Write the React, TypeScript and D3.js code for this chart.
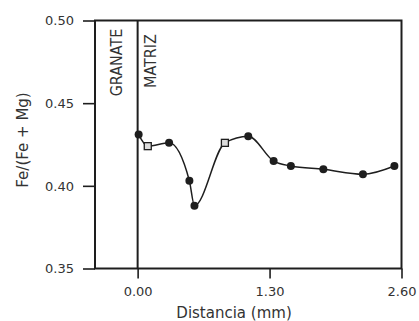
import React, { useRef, useEffect } from 'react';
import * as d3 from 'd3';

// Fe/(Fe+Mg) profile across garnet -> matrix
const distance = [0.01, 0.10, 0.31, 0.51, 0.56, 0.86, 1.09, 1.34, 1.51, 1.83, 2.22, 2.53];
const feRatio = [0.431, 0.424, 0.426, 0.403, 0.388, 0.426, 0.430, 0.415, 0.412, 0.410, 0.407, 0.412];
const openMarker = [false, true, false, false, false, true, false, false, false, false, false, false];

const xTicks = [0, 1.3, 2.6];
const yTicks = [0.35, 0.4, 0.45, 0.5];
const zoneLabels = ['GRANATE', 'MATRIZ'];

const W = 419;
const H = 321;

export default function App() {
  const svgRef = useRef<SVGSVGElement>(null);

  useEffect(() => {
    if (!svgRef.current) return;
    const svg = d3.select(svgRef.current);
    svg.selectAll('*').remove();

    const margin = { top: 20.5, right: 17.5, bottom: 52.5, left: 95 };
    const innerWidth = W - margin.left - margin.right;
    const innerHeight = H - margin.top - margin.bottom;
    const ink = '#1e1e1e';
    const textCol = '#333';
    const font = "'DejaVu Sans', Verdana, sans-serif";

    const g = svg.append('g').attr('transform', `translate(${margin.left},${margin.top})`);

    const x = d3.scaleLinear().domain([-0.42, 2.6]).range([0, innerWidth]);
    const y = d3.scaleLinear().domain([0.35, 0.5]).range([innerHeight, 0]);

    // Frame
    g.append('rect')
      .attr('x', 0).attr('y', 0)
      .attr('width', innerWidth).attr('height', innerHeight)
      .attr('fill', 'none').attr('stroke', ink).attr('stroke-width', 2);

    // Boundary garnet / matrix at 0
    g.append('line')
      .attr('x1', x(0)).attr('x2', x(0))
      .attr('y1', 0).attr('y2', innerHeight)
      .attr('stroke', ink).attr('stroke-width', 2);

    // Y axis
    const yAxis = g.append('g')
      .call(d3.axisLeft(y).tickValues(yTicks).tickSize(12).tickPadding(9).tickFormat(d3.format('.2f')));
    yAxis.select('.domain').remove();
    yAxis.selectAll('line').attr('stroke', ink).attr('stroke-width', 1.6);
    yAxis.selectAll('text')
      .attr('fill', textCol).style('font-size', '13px').style('font-family', font);

    // X axis
    const xAxis = g.append('g')
      .attr('transform', `translate(0,${innerHeight})`)
      .call(d3.axisBottom(x).tickValues(xTicks).tickSize(10).tickPadding(8).tickFormat(d3.format('.2f')));
    xAxis.select('.domain').remove();
    xAxis.selectAll('line').attr('stroke', ink).attr('stroke-width', 1.6);
    xAxis.selectAll('text')
      .attr('fill', textCol).style('font-size', '13px').style('font-family', font);

    // Zone labels
    const zoneX = [(x(-0.42) + x(0)) / 2, x(0) + 12];
    zoneLabels.forEach((lab, i) => {
      g.append('text')
        .attr('transform', `translate(${zoneX[i] + 6},${i === 0 ? 42 : 40.5}) rotate(-90)`)
        .attr('text-anchor', 'middle')
        .attr('fill', textCol)
        .style('font-size', '16px')
        .style('font-family', "'DejaVu Sans Condensed', 'Liberation Sans Narrow', 'DejaVu Sans', sans-serif")
        .text(lab);
    });

    // Curve
    const pts = distance.map((d, i) => [d, feRatio[i]] as [number, number]);
    const line = d3.line<[number, number]>()
      .x(d => x(d[0]))
      .y(d => y(d[1]))
      .curve(d3.curveMonotoneX);

    g.append('path')
      .datum(pts)
      .attr('fill', 'none')
      .attr('stroke', ink)
      .attr('stroke-width', 1.5)
      .attr('d', line);

    // Markers
    pts.forEach((p, i) => {
      if (openMarker[i]) {
        g.append('rect')
          .attr('x', x(p[0]) - 3.5).attr('y', y(p[1]) - 3.5)
          .attr('width', 7).attr('height', 7)
          .attr('fill', '#ddd').attr('stroke', ink).attr('stroke-width', 1.3);
      } else {
        g.append('circle')
          .attr('cx', x(p[0])).attr('cy', y(p[1])).attr('r', 4)
          .attr('fill', ink);
      }
    });

    // Axis titles
    svg.append('text')
      .attr('x', margin.left + x(0.95))
      .attr('y', 318)
      .attr('text-anchor', 'middle')
      .attr('fill', textCol)
      .style('font-size', '15px')
      .style('font-family', font)
      .text('Distancia (mm)');

    svg.append('text')
      .attr('transform', `translate(28,140) rotate(-90)`)
      .attr('text-anchor', 'middle')
      .attr('fill', textCol)
      .style('font-size', '15px')
      .style('font-family', font)
      .text('Fe/(Fe + Mg)');
  }, []);

  return (
    <svg
      ref={svgRef}
      width={W}
      height={H}
      style={{ position: 'absolute', left: 0, top: 0, background: '#fff' }}
    />
  );
}
